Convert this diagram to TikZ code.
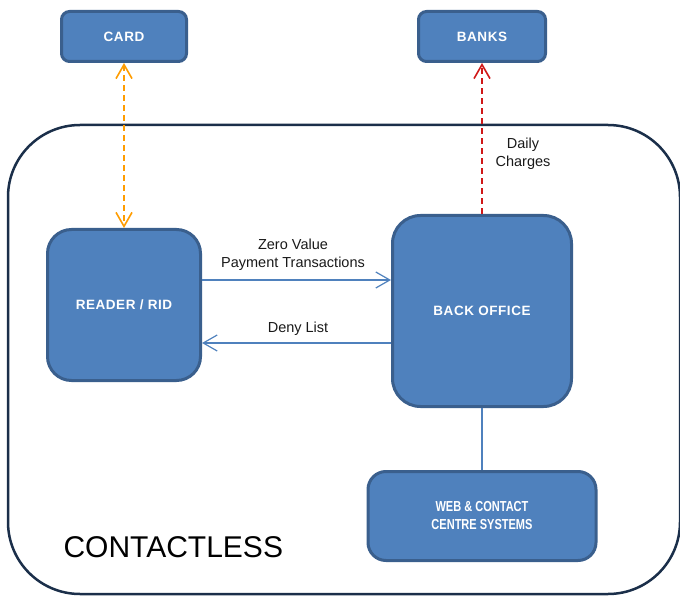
\documentclass[tikz,border=0pt]{standalone}
\usepackage{fontspec}
\setmainfont{Liberation Sans}
\newfontfamily\boxfont[LetterSpace=4]{Liberation Sans}
\newfontfamily\narrowfont[FakeStretch=0.76]{Liberation Sans}
\usetikzlibrary{arrows.meta}
\definecolor{boxblue}{HTML}{4F81BD}
\definecolor{boxedge}{HTML}{3A5F8D}
\definecolor{framenavy}{HTML}{1B2F4A}
\definecolor{cardorange}{HTML}{FF9C00}
\definecolor{bankred}{HTML}{D01818}
\begin{document}
\begin{tikzpicture}[x=1pt,y=-1pt,
    box/.style={draw=boxedge, fill=boxblue, line width=3pt, text=white, align=center,
      inner sep=0pt, font=\boxfont\fontsize{13.5}{16}\selectfont\bfseries},
    lbl/.style={align=center, text=black!90, font=\fontsize{14.5}{18}\selectfont},
    link/.style={draw=boxblue, line width=1.2pt},
    dashlink/.style={line width=1.6pt, dash pattern=on 6pt off 4pt},
    >={Straight Barb[length=14pt,width=16pt]}]

    \useasboundingbox (0,0) rectangle (680,596);

    % Rahmen
    \draw[framenavy, line width=2.5pt, rounded corners=72pt] (8,125) rectangle (680,594);
    \node[anchor=west, font=\fontsize{30}{34}\selectfont] (title) at (60,547) {CONTACTLESS};

    % Boxen
    \node[box, minimum width=125pt, minimum height=50pt, rounded corners=8pt] (card) at (124,36.5) {CARD};
    \node[box, minimum width=127pt, minimum height=50pt, rounded corners=8pt] (banks) at (482,36.5) {BANKS};
    \node[box, minimum width=153pt, minimum height=151pt, rounded corners=24pt] (reader) at (124,305) {READER / RID};
    \node[box, minimum width=179pt, minimum height=191pt, rounded corners=28pt] (back) at (482,311) {BACK OFFICE};
    \node[box, minimum width=228pt, minimum height=89pt, rounded corners=18pt,
      font=\narrowfont\fontsize{14.5}{18}\selectfont\bfseries] (web) at (482,516) {WEB \& CONTACT\\CENTRE SYSTEMS};

    % Verbindungen
    \draw[<->, cardorange, dashlink] (card.south) -- (reader.north);
    \draw[->, bankred, dashlink] (back.north) -- (banks.south);
    \coordinate (zv) at ([yshift=25pt]reader.east);
    \coordinate (dl) at ([yshift=-38pt]reader.east);
    \draw[link, ->] (zv) -- (zv -| back.west);
    \draw[link, <-] (dl) -- (dl -| back.west);
    \draw[link] (back.south) -- (web.north);

    % Beschriftung
    \node[lbl] (zvlbl) at (293,255) {Zero Value\\Payment Transactions};
    \node[lbl] (dllbl) at (298,329) {Deny List};
    \node[lbl] (dclbl) at (523,153.5) {Daily\\Charges};

\end{tikzpicture}
\end{document}
